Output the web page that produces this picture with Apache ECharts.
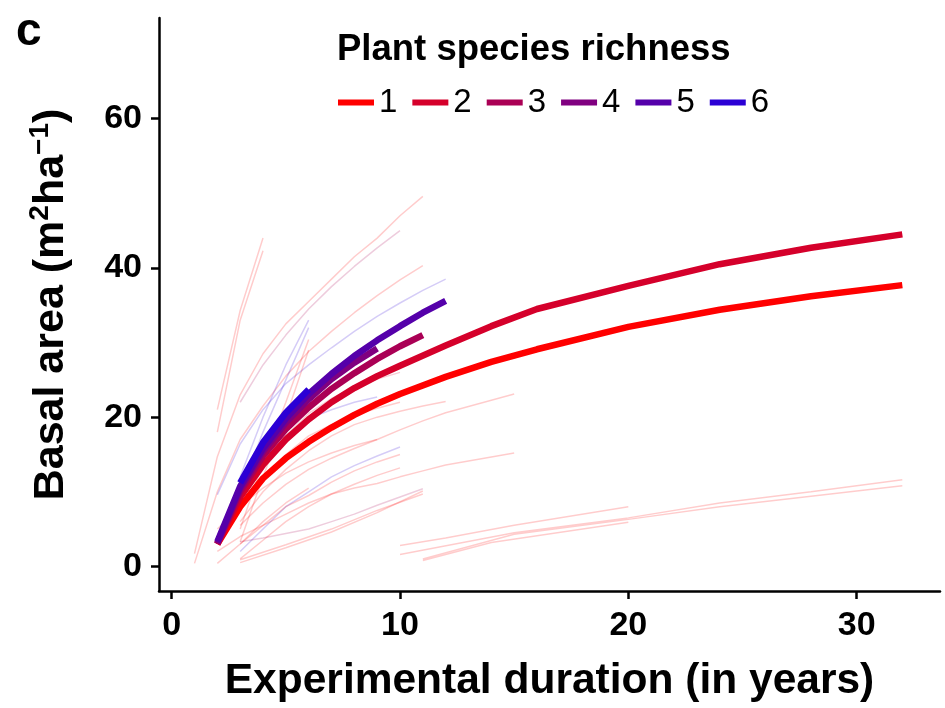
<!DOCTYPE html>
<html><head><meta charset="utf-8">
<script src="https://cdn.jsdelivr.net/npm/echarts@6/dist/echarts.min.js"></script>
<style>html,body{margin:0;padding:0;background:#fff}#c{width:945px;height:708px}</style>
</head><body><div id="c"></div>
<script>
// Legend categories and colours
const richness = ['1','2','3','4','5','6'];
const richColors = ['#FF0000','#D5002B','#AA0055','#800080','#5500AA','#2B00D5'];
const xTicks = [0,10,20,30];
const yTicks = [0,20,40,60];

// Thick fitted lines per richness level ([years, basal area])
const rich1 = [[2,3.0],[3,8.0],[4,11.8],[5,14.5],[6,16.7],[7,18.6],[8,20.3],[9,21.8],[10,23.1],[12,25.4],[14,27.4],[16,29.1],[20,32.1],[24,34.4],[28,36.2],[32,37.7]];
const rich2 = [[2,3.0],[3,9.3],[4,13.6],[5,17.0],[6,19.7],[7,22.0],[8,23.9],[9,25.5],[10,26.9],[12,29.6],[14,32.2],[16,34.5],[20,37.6],[24,40.5],[28,42.7],[32,44.5]];
const rich3 = [[2,3.0],[3,10.0],[4,14.8],[5,18.4],[6,21.3],[7,23.8],[8,25.9],[9,27.8],[10,29.5],[11,31.0]];
const rich4 = [[2,3.1],[3,10.4],[4,15.4],[5,19.3],[6,22.4],[7,25.1],[8,27.3],[9,29.2]];
const rich5 = [[2,3.3],[3,10.7],[4,15.8],[5,19.8],[6,23.1],[7,25.8],[8,28.2],[9,30.3],[10,32.2],[11,34.0],[12,35.6]];
const rich6 = [[3,11.2],[4,16.6],[5,20.6],[6,23.7]];

// Thin per-site lines ([years, basal area])
const thin01 = [[1,1.7],[2,14.7],[3,23],[4,28.5],[5,32.5],[6,35.5],[7,38.5],[8,41.5],[9,44],[10,47],[11,49.6]];
const thin02 = [[3,22],[4,27],[5,31],[6,34.5],[7,37.5],[8,40.2],[9,42.7],[10,45]];
const thin03 = [[1,0.4],[2,10],[3,17],[4,21.5],[5,25.5],[6,28.8],[7,31.5],[8,34],[9,36.3],[10,38.4],[11,40.3]];
const thin04 = [[2,9.6],[3,16.4],[4,21],[5,24.5],[6,27],[7,29.3],[8,31.5],[9,33.5],[10,35.3],[11,37],[12,38.5]];
const thin05 = [[2,21],[3,34.3],[4,44]];
const thin06 = [[2,18],[3,33],[4,42.3]];
const thin07 = [[3,12],[4,20],[5,27],[6,33]];
const thin08 = [[3,10],[4,18],[5,25],[6,32]];
const thin09 = [[3,5],[4,14],[5,22],[6,30.4]];
const thin10 = [[3,3.3],[4,12],[5,20],[6,29]];
const thin11 = [[2,4],[3,9],[4,13],[5,17.5],[6,19.8],[7,21],[8,22],[9,22.7]];
const thin12 = [[2,3],[3,7.5],[4,11.5],[5,15],[6,17.5],[7,19],[8,20.3],[9,21.2],[10,22]];
const thin13 = [[3,6],[4,10],[5,13],[6,15.5],[7,17.5],[8,19],[9,20],[10,20.8],[11,21.5],[12,22.1]];
const thin14 = [[3,10],[4,14],[5,17.5],[6,20.5],[7,22.5],[8,24],[9,25.1],[10,26]];
const thin15 = [[2,5],[3,8],[4,10.5],[5,12.5],[6,14],[7,15.2],[8,16.2],[9,17]];
const thin16 = [[3,2],[4,5],[5,8],[6,10],[7,12],[8,13.5],[9,14.8],[10,16]];
const thin17 = [[3,3],[4,5.5],[5,8],[6,9.5],[7,11.3],[8,12.8],[9,14],[10,15]];
const thin18 = [[3,1],[4,3.5],[5,6],[6,8],[7,9.7],[8,11],[9,12.2],[10,13.2]];
const thin19 = [[2,2],[3,4],[4,5.5],[5,7],[6,8.5],[7,9.7],[8,10.5],[9,11.1],[10,12],[11,12.8],[12,13.6],[15,15.2]];
const thin20 = [[3,5.5],[4,8.5],[5,11],[6,13],[7,14.5],[8,15.8],[9,17],[10,18.3],[11,19.5],[12,20.6],[15,23.1]];
const thin21 = [[3,3.3],[4,3.8],[5,4.4],[6,5],[7,6],[8,7],[9,8.2],[10,9.3],[11,10.4]];
const thin22 = [[3,0.9],[5,2.9],[7,5],[9,7.5],[11,9.7]];
const thin23 = [[3,0.5],[5,2.5],[7,4.6],[9,7.2],[11,10.1]];
const thin24 = [[10,2.8],[12,3.8],[15,5.5],[20,8.0]];
const thin25 = [[10,1.6],[15,4.5],[20,6.5],[24,8.5],[28,10],[32,11.6]];
const thin26 = [[11,0.8],[14,3.2],[20,5.9]];
const thin27 = [[11,1.0],[15,4.3],[20,6.3],[24,8],[28,9.4],[32,10.8]];
const thin28 = [[2,0.4],[3,3],[4,6],[5,8.5],[6,10.5]];
const thinLines = [thin01,thin02,thin03,thin04,thin05,thin06,thin07,thin08,thin09,thin10,thin11,thin12,thin13,thin14,thin15,thin16,thin17,thin18,thin19,thin20,thin21,thin22,thin23,thin24,thin25,thin26,thin27,thin28];
const thinLevel = [1,3,1,6,1,1,6,6,1,1,6,1,1,2,1,6,1,1,1,1,3,1,1,1,1,1,1,1];

function hexA(hex, a){
  const n = parseInt(hex.slice(1),16);
  return 'rgba(' + ((n>>16)&255) + ',' + ((n>>8)&255) + ',' + (n&255) + ',' + a + ')';
}

const series = [];
thinLines.forEach((d,i)=>{
  series.push({type:'line', data:d, symbol:'none', silent:true, z:1,
    lineStyle:{width:1.5, color:hexA(richColors[thinLevel[i]-1],0.2)}});
});
[rich1,rich2,rich3,rich4,rich5,rich6].forEach((d,i)=>{
  series.push({type:'line', name:richness[i], data:d, symbol:'none', z:3+i,
    color:richColors[i], lineStyle:{width:6.5, color:richColors[i], cap:'butt'}});
});

const FONT = '"Liberation Sans", Arial, Helvetica, sans-serif';
const chart = echarts.init(document.getElementById('c'), null, {renderer:'canvas'});
chart.setOption({
  animation:false,
  backgroundColor:'#fff',
  textStyle:{fontFamily:FONT},
  grid:{left:159, right:5, top:18, bottom:114},
  title:[
    {text:'c', left:11, top:4, textStyle:{fontFamily:FONT, fontSize:46, fontWeight:'bold', color:'#000'}},
    {text:'Plant species richness', left:332, top:26, textStyle:{fontFamily:FONT, fontSize:36.5, fontWeight:'bold', color:'#000'}}
  ],
  legend:{data:richness, left:333, top:81, icon:'rect', itemWidth:36, itemHeight:6, itemGap:15,
    textStyle:{fontFamily:FONT, fontSize:33, color:'#000', padding:[0,0,0,0]}},
  xAxis:{type:'value', min:-0.555, max:33.65,
    name:'Experimental duration (in years)', nameLocation:'middle', nameGap:69,
    nameTextStyle:{fontFamily:FONT, fontSize:42.5, fontWeight:'bold', color:'#000'},
    axisLine:{onZero:false, lineStyle:{color:'#000', width:2.5}},
    axisTick:{show:true, length:8, lineStyle:{color:'#000', width:2.5}, customValues:xTicks},
    axisLabel:{fontFamily:FONT, fontSize:34, fontWeight:'bold', color:'#000', margin:18, customValues:xTicks},
    splitLine:{show:false}},
  yAxis:{type:'value', min:-3.3, max:73.5,
    name:'{a|Basal area (m}{s|2}{a|ha}{s|−1}{a|)}', nameLocation:'middle', nameGap:83,
    nameTextStyle:{rich:{
      a:{fontFamily:FONT, fontSize:43, fontWeight:'bold', color:'#000', lineHeight:50},
      s:{fontFamily:FONT, fontSize:28, fontWeight:'bold', color:'#000', verticalAlign:'top', lineHeight:50}
    }},
    axisLine:{onZero:false, lineStyle:{color:'#000', width:2.5}},
    axisTick:{show:true, length:8, lineStyle:{color:'#000', width:2.5}, customValues:yTicks},
    axisLabel:{fontFamily:FONT, fontSize:34, fontWeight:'bold', color:'#000', margin:17, customValues:yTicks},
    splitLine:{show:false}},
  series:series
});
</script>
</body></html>
